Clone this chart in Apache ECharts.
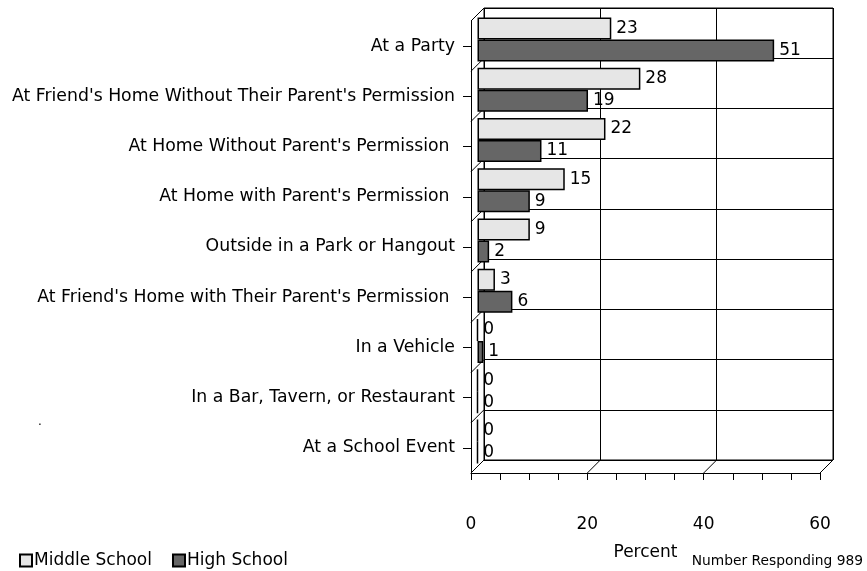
<!DOCTYPE html>
<html>
<head>
<meta charset="utf-8">
<script src="https://cdn.jsdelivr.net/npm/echarts@6/dist/echarts.min.js"></script>
<style>
  html, body { margin: 0; padding: 0; background: #fff; }
  #chart { width: 867px; height: 571px; }
</style>
</head>
<body>
<div id="chart"></div>
<script>
// categories top to bottom
const categories = [
  'At a Party',
  "At Friend's Home Without Their Parent's Permission",
  "At Home Without Parent's Permission ",
  "At Home with Parent's Permission ",
  'Outside in a Park or Hangout',
  "At Friend's Home with Their Parent's Permission ",
  'In a Vehicle',
  'In a Bar, Tavern, or Restaurant',
  'At a School Event'
]
const middleSchool = [23, 28, 22, 15, 9, 3, 0, 0, 0]
const highSchool = [51, 19, 11, 9, 2, 6, 1, 0, 0]
const xTicks = [0, 20, 40, 60]

const FONT = 'DejaVu Sans, sans-serif'
const FS = 17
const DX = 13
const DY = 13

const chart = echarts.init(document.getElementById('chart'))

// lines joining the front frame to the back wall
function floorDiag(params, api) {
  const cs = params.coordSys
  const x = api.coord([api.value(0), 0])[0]
  const y = cs.y + cs.height
  return {
    type: 'line',
    shape: { x1: x, y1: y, x2: x + DX, y2: y - DY },
    style: { stroke: '#000', lineWidth: 1 }
  }
}
function wallDiag(params, api) {
  const cs = params.coordSys
  const y = cs.y + api.value(0) * cs.height / categories.length
  return {
    type: 'line',
    shape: { x1: cs.x, y1: y, x2: cs.x + DX, y2: y - DY },
    style: { stroke: '#000', lineWidth: 1 }
  }
}

const option = {
  animation: false,
  textStyle: { fontFamily: FONT },
  grid: [
    // back wall
    { left: 471 + DX, top: 21 - DY, width: 349, height: 452, show: true, borderColor: '#000', borderWidth: 1 },
    // bars, halfway in depth
    { left: 471 + DX / 2, top: 21 - DY / 2, width: 349, height: 452 },
    // front frame
    { left: 471, top: 21, width: 349, height: 452 }
  ],
  legend: {
    left: 14,
    top: 547,
    itemWidth: 12,
    itemHeight: 12,
    itemGap: 20,
    icon: 'rect',
    textStyle: { fontSize: FS, color: '#000', fontFamily: FONT, padding: [0, 0, 0, -3] },
    data: ['Middle School', 'High School']
  },
  graphic: [
    { type: 'text', right: 4, bottom: 3, style: { text: 'Number Responding 989', fontSize: 13.8, fill: '#000', fontFamily: FONT } },
    { type: 'text', left: 38, top: 416, style: { text: '.', fontSize: 12, fill: '#000', fontFamily: FONT } }
  ],
  xAxis: [
    {
      gridIndex: 0, type: 'value', min: 0, max: 60, interval: 20,
      axisLine: { show: false }, axisTick: { show: false }, axisLabel: { show: false },
      splitLine: { show: true, lineStyle: { color: '#000', width: 1 } }
    },
    {
      gridIndex: 1, type: 'value', min: 0, max: 60,
      axisLine: { show: false }, axisTick: { show: false }, axisLabel: { show: false },
      splitLine: { show: false }
    },
    {
      gridIndex: 2, type: 'value', min: 0, max: 60, interval: 5,
      name: 'Percent', nameLocation: 'middle', nameGap: 71,
      nameTextStyle: { fontSize: FS, color: '#000', fontFamily: FONT },
      axisLine: { show: true, lineStyle: { color: '#000', width: 1 } },
      axisTick: { show: true, length: 7, lineStyle: { color: '#000' } },
      axisLabel: {
        fontSize: FS, color: '#000', margin: 43, fontFamily: FONT,
        formatter: v => (xTicks.indexOf(v) >= 0 ? String(v) : '')
      },
      splitLine: { show: false }
    }
  ],
  yAxis: [
    {
      gridIndex: 0, type: 'category', data: categories, inverse: true,
      axisLine: { show: false }, axisTick: { show: false }, axisLabel: { show: false },
      splitLine: { show: true, lineStyle: { color: '#000', width: 1 } }
    },
    {
      gridIndex: 1, type: 'category', data: categories, inverse: true,
      axisLine: { show: false }, axisTick: { show: false }, axisLabel: { show: false },
      splitLine: { show: false }
    },
    {
      gridIndex: 2, type: 'category', data: categories, inverse: true,
      axisLine: { show: true, lineStyle: { color: '#000', width: 1 } },
      axisTick: { show: true, alignWithLabel: true, length: 8, lineStyle: { color: '#000' } },
      axisLabel: { fontSize: 17.3, color: '#000', margin: 16, fontFamily: FONT, interval: 0 },
      splitLine: { show: false }
    }
  ],
  series: [
    {
      name: 'Middle School', type: 'bar', xAxisIndex: 1, yAxisIndex: 1,
      data: middleSchool, barWidth: 22, barGap: '0%',
      itemStyle: { color: '#e6e6e6', borderColor: '#000', borderWidth: 1.5 },
      label: { show: true, position: 'right', distance: 5, fontSize: FS, color: '#000', fontFamily: FONT }
    },
    {
      name: 'High School', type: 'bar', xAxisIndex: 1, yAxisIndex: 1,
      data: highSchool, barWidth: 22, barGap: '0%',
      itemStyle: { color: '#666666', borderColor: '#000', borderWidth: 1.5 },
      label: { show: true, position: 'right', distance: 5, fontSize: FS, color: '#000', fontFamily: FONT }
    },
    {
      type: 'custom', xAxisIndex: 2, yAxisIndex: 2, silent: true,
      renderItem: floorDiag,
      data: xTicks.map(v => [v, 0])
    },
    {
      type: 'custom', xAxisIndex: 2, yAxisIndex: 2, silent: true,
      renderItem: wallDiag,
      encode: { x: -1, y: -1 },
      data: categories.map((c, i) => [i]).concat([[categories.length]])
    }
  ]
}

chart.setOption(option)
window.addEventListener('resize', () => chart.resize())
</script>
</body>
</html>
